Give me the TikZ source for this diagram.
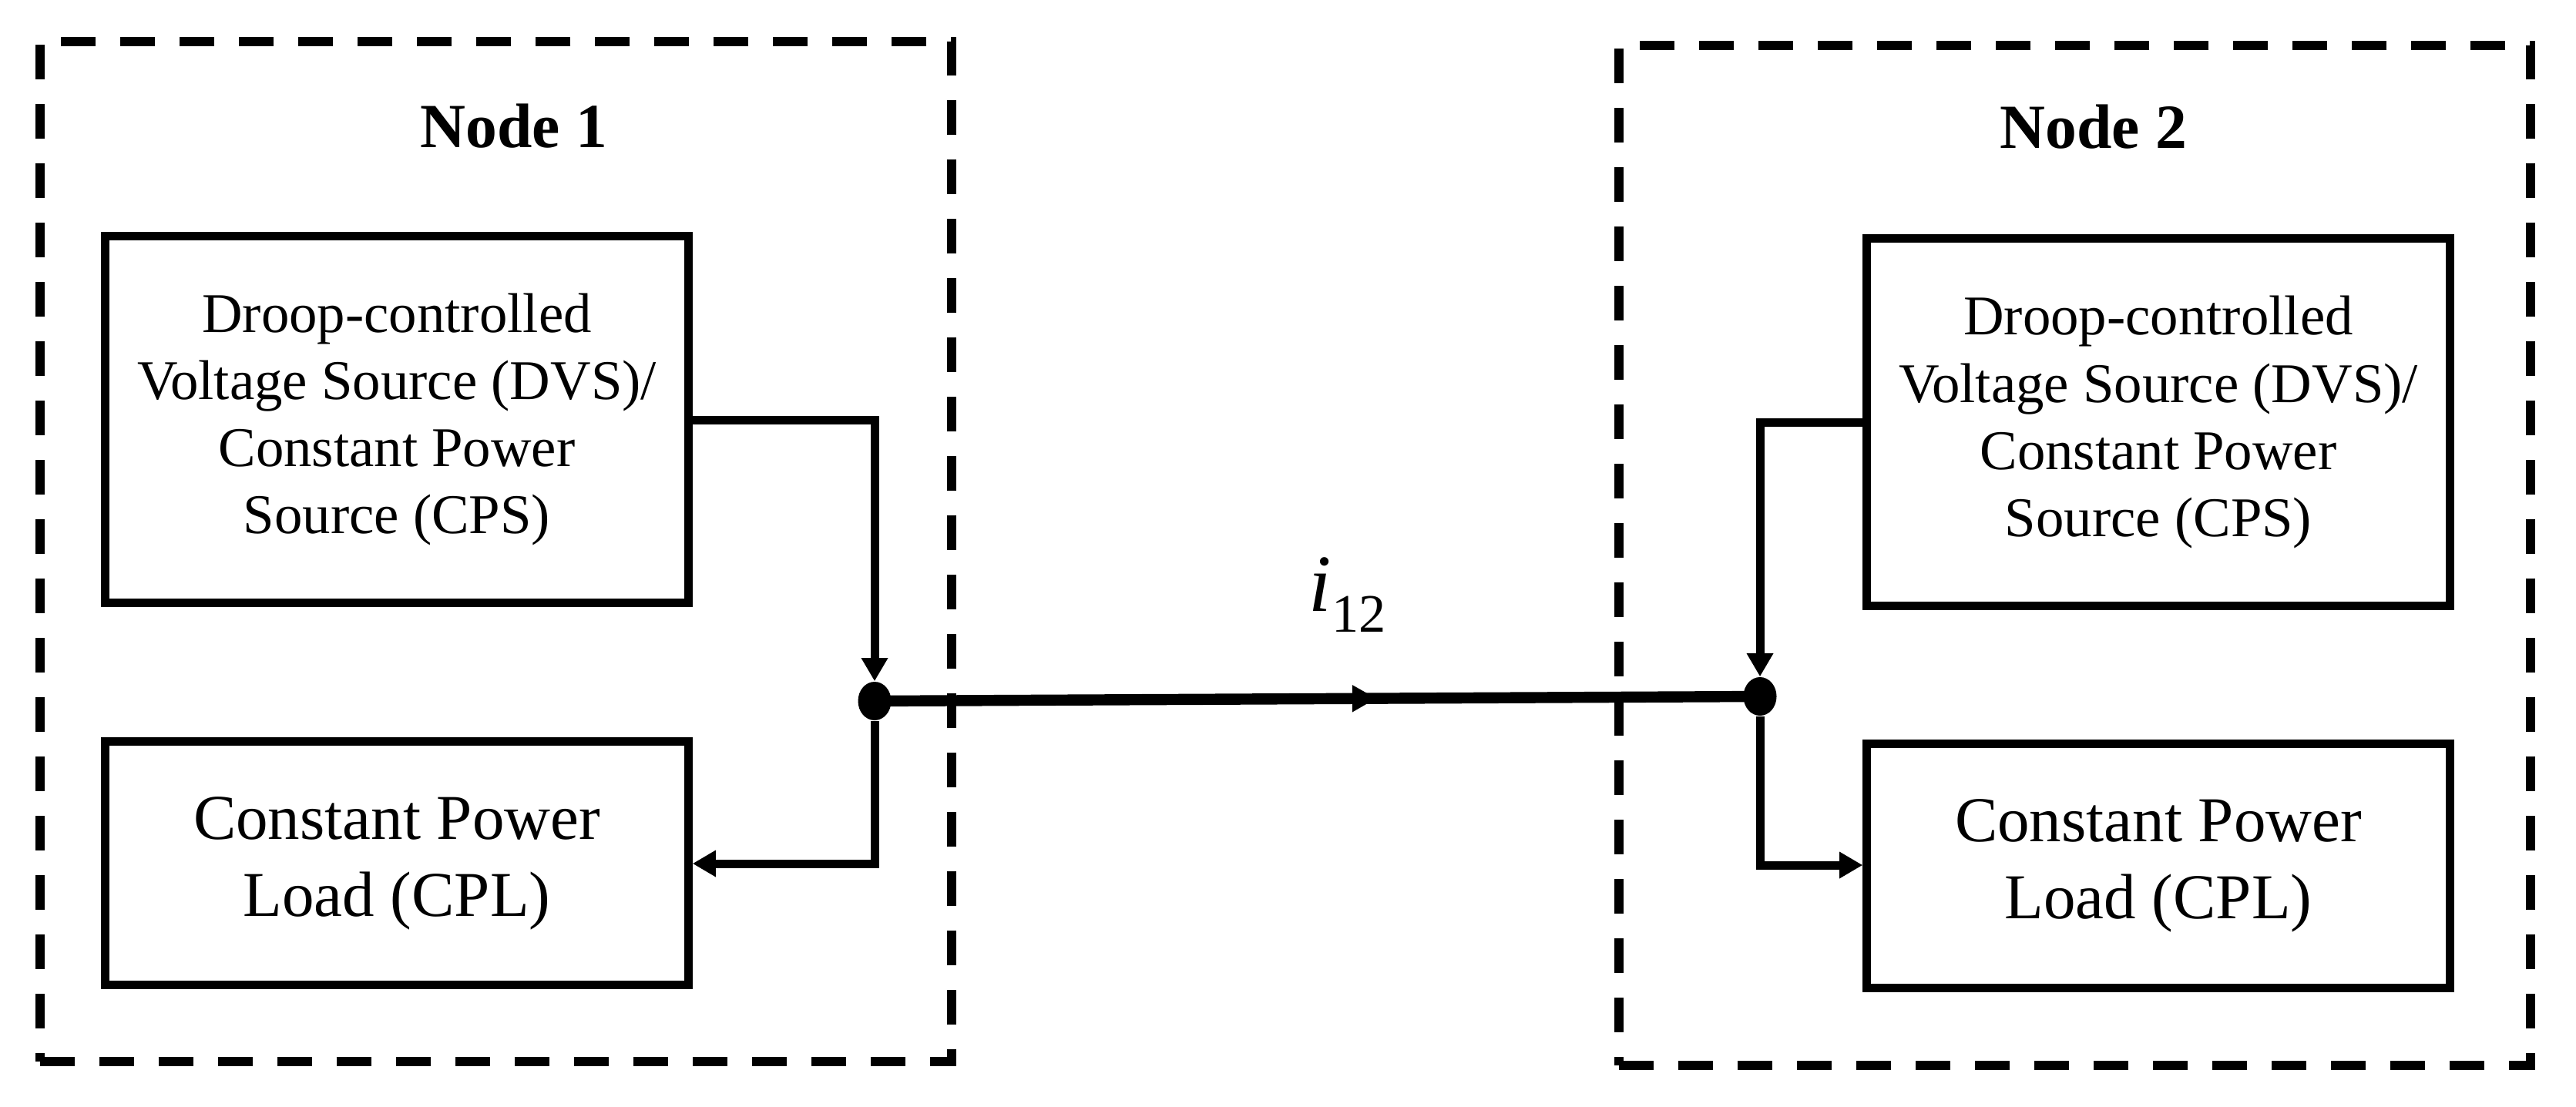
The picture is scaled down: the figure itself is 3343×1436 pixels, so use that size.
\documentclass[tikz,border=0pt]{standalone}
\usepackage{fontspec}
\setmainfont{Liberation Serif}
\usetikzlibrary{arrows.meta,shapes.geometric,decorations.markings}
\begin{document}
\begin{tikzpicture}[x=0.01cm,y=-0.01cm,
  dashbox/.style={draw, dashed, dash pattern=on 12.8pt off 9.1pt, line width=3.41pt, inner sep=0pt, minimum width=11.83cm, minimum height=13.24cm},
  blockbox/.style={draw, line width=3.13pt, inner sep=0pt, minimum width=7.56cm, align=center},
  dvstext/.style={font=\fontsize{20.7pt}{24.75pt}\selectfont},
  cpltext/.style={font=\fontsize{23.6pt}{28.45pt}\selectfont},
  titletext/.style={font=\bfseries\fontsize{23.2pt}{28pt}\selectfont, inner sep=0pt},
  junction/.style={ellipse, fill=black, draw=none, inner sep=0pt, minimum width=0.43cm, minimum height=0.50cm},
  conn/.style={line width=3.13pt},
  arr/.style={-{Triangle[length=8.6pt 0 0,width=9.3pt 0 0]}},
  bus/.style={line width=4.1pt, postaction={decorate},
    decoration={markings, mark=at position 0.567 with {\arrow{Triangle[length=9pt 0 0,width=9.4pt 0 0]}}}}
]
\useasboundingbox (0,0) rectangle (3343,1436);

% dashed node frames
\node[dashbox] (frame1) at (643.5,716) {};
\node[dashbox] (frame2) at (2692.5,721) {};

% titles
\node[titletext] (title1) at (667,164) {Node 1};
\node[titletext] (title2) at (2717,165) {Node 2};

% blocks
\node[blockbox, dvstext, minimum height=4.75cm] (src1) at (515,544.5)
  {Droop-controlled\\Voltage Source (DVS)/\\Constant Power\\Source (CPS)};
\node[blockbox, cpltext, minimum height=3.15cm] (load1) at (515,1120.5)
  {Constant Power\\Load (CPL)};
\node[blockbox, dvstext, minimum height=4.76cm] (src2) at (2801,548)
  {Droop-controlled\\Voltage Source (DVS)/\\Constant Power\\Source (CPS)};
\node[blockbox, cpltext, minimum height=3.16cm] (load2) at (2801,1124)
  {Constant Power\\Load (CPL)};

% junctions
\node[junction] (J1) at (1135,910) {};
\node[junction] (J2) at (2284,904) {};

\coordinate (c1) at (1135,545);
\coordinate (c2) at (1135,1121);
\coordinate (c3) at (2284,548);
\coordinate (c4) at (2284,1123);

% connectors node 1
\draw[conn, arr] (src1.east |- c1) -- (c1) -- (J1.north);
\draw[conn, arr] (J1.south) -- (c2) -- (load1.east |- c2);

% connectors node 2
\draw[conn, arr] (src2.west |- c3) -- (c3) -- (J2.north);
\draw[conn, arr] (J2.south) -- (c4) -- (load2.west |- c4);

% line between nodes
\draw[bus] (J1.center) -- (J2.center);

% current label
\node[anchor=base west, inner sep=0pt] (lbl) at (1698,793)
  {{\fontsize{30pt}{32pt}\selectfont\itshape i}\raisebox{-7.7pt}{\fontsize{20pt}{22pt}\selectfont 12}};
\end{tikzpicture}
\end{document}
